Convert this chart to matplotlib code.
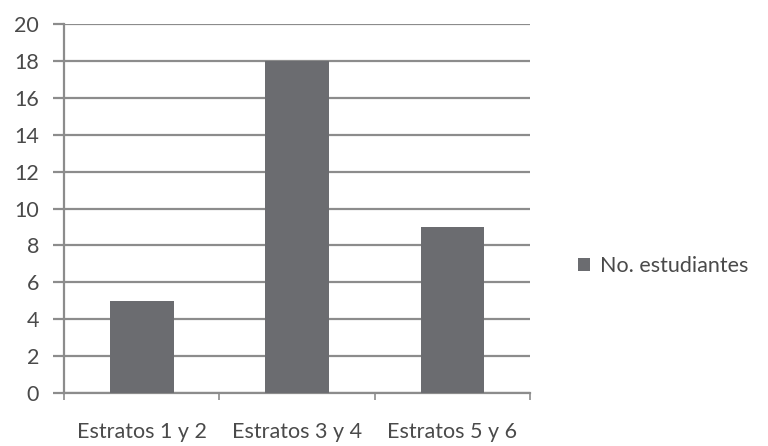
import matplotlib.pyplot as plt
import matplotlib.ticker as ticker

plt.rcParams['font.family'] = ['Lato', 'DejaVu Sans']

categorias = ["Estratos 1 y 2", "Estratos 3 y 4", "Estratos 5 y 6"]
estudiantes = [5, 18, 9]
serie = "No. estudiantes"

gris_barra = '#6b6c70'
gris_linea = '#8c8c8c'
gris_texto = '#4a4a4a'

fig = plt.figure(figsize=(7.68, 4.46), dpi=100)
ax = fig.add_axes([0.0833, 0.119, 0.607, 0.827])

x = range(len(categorias))
ax.bar(x, estudiantes, width=0.41, color=gris_barra, label=serie, zorder=3)

ax.set_xlim(-0.5, len(categorias) - 0.5)
ax.set_ylim(0, 20)
ax.yaxis.set_major_locator(ticker.MultipleLocator(2))
ax.grid(axis='y', color=gris_linea, linewidth=1.6, zorder=0)

ax.set_xticks(list(x))
ax.set_xticklabels(categorias)
ax.set_xticks([i - 0.5 for i in range(len(categorias) + 1)], minor=True)
ax.tick_params(axis='x', which='major', length=0, pad=21, labelsize=15.5, labelcolor=gris_texto)
ax.tick_params(axis='x', which='minor', length=5, width=1.2, color=gris_linea, direction='out')
ax.tick_params(axis='y', length=8, width=1.6, color=gris_linea, labelsize=15.5,
               labelcolor=gris_texto, pad=10)

for lado in ['top', 'right']:
    ax.spines[lado].set_visible(False)
for lado in ['left', 'bottom']:
    ax.spines[lado].set_color(gris_linea)
    ax.spines[lado].set_linewidth(1.6)

fig.legend(loc='center left', bbox_to_anchor=(0.728, 0.404), frameon=False,
           handlelength=0.55, handleheight=0.55, handletextpad=0.45,
           prop={'size': 15.5}, labelcolor=gris_texto)

fig.savefig('out.png', dpi=100)
